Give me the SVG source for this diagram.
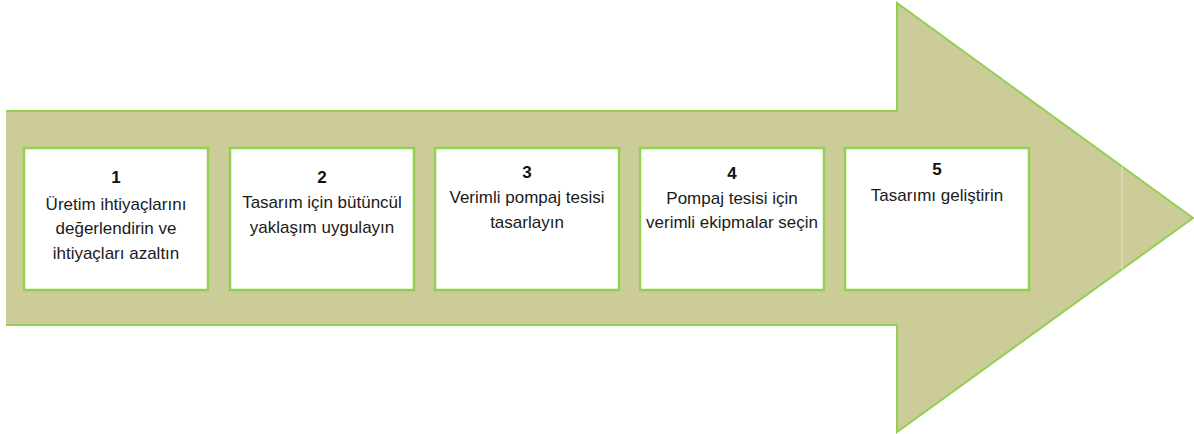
<svg xmlns="http://www.w3.org/2000/svg" width="1194" height="434" viewBox="0 0 1194 434">
  <style>
    .arrow { fill: #cccc99; stroke: #92d050; stroke-width: 2; }
    .box { fill: #ffffff; stroke: #92d050; stroke-width: 2.5; }
    .num { font-family: "Liberation Sans", Arial, sans-serif; font-size: 17px; font-weight: bold; fill: #111111; text-anchor: middle; }
    .lbl { font-family: "Liberation Sans", Arial, sans-serif; font-size: 17px; fill: #1a1a1a; text-anchor: middle; }
  </style>
  <rect width="1194" height="434" fill="#ffffff"/>

  <!-- big process arrow -->
  <g id="arrow">
    <polygon class="arrow" points="7,111 897,111 897,3 1193,218 897,432 897,325 7,325"/>
    <!-- cover the left edge so it shows no outline -->
    <line x1="7" y1="112" x2="7" y2="324" stroke="#cccc99" stroke-width="2"/>
    <line x1="1122" y1="166" x2="1122" y2="270" stroke="#e6e6cc" stroke-width="1"/>
  </g>

  <g id="step1">
    <rect class="box" x="24" y="148" width="184" height="142"/>
    <text class="num" x="116" y="183">1</text>
    <text class="lbl" x="116" y="210">Üretim ihtiyaçlarını</text>
    <text class="lbl" x="116" y="234">değerlendirin ve</text>
    <text class="lbl" x="116" y="259">ihtiyaçları azaltın</text>
  </g>

  <g id="step2">
    <rect class="box" x="230" y="148" width="184" height="142"/>
    <text class="num" x="322" y="183">2</text>
    <text class="lbl" x="322" y="208">Tasarım için bütüncül</text>
    <text class="lbl" x="322" y="233">yaklaşım uygulayın</text>
  </g>

  <g id="step3">
    <rect class="box" x="435" y="148" width="184" height="142"/>
    <text class="num" x="527" y="178">3</text>
    <text class="lbl" x="527" y="203">Verimli pompaj tesisi</text>
    <text class="lbl" x="527" y="228">tasarlayın</text>
  </g>

  <g id="step4">
    <rect class="box" x="640" y="148" width="184" height="142"/>
    <text class="num" x="732" y="179">4</text>
    <text class="lbl" x="732" y="204">Pompaj tesisi için</text>
    <text class="lbl" x="732" y="228">verimli ekipmalar seçin</text>
  </g>

  <g id="step5">
    <rect class="box" x="845" y="148" width="184" height="142"/>
    <text class="num" x="937" y="175">5</text>
    <text class="lbl" x="937" y="201">Tasarımı geliştirin</text>
  </g>

  <g id="connectors"></g>
</svg>
